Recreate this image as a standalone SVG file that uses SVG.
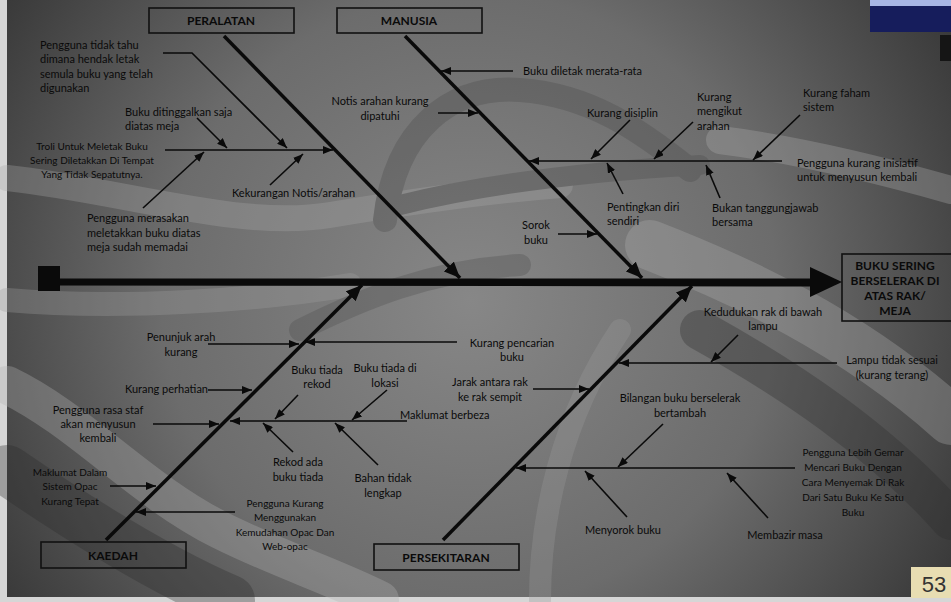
<svg xmlns="http://www.w3.org/2000/svg" width="951" height="602" viewBox="0 0 951 602">
<defs>
<radialGradient id="bg" cx="470" cy="300" r="560" gradientUnits="userSpaceOnUse">
<stop offset="0" stop-color="#878787"/>
<stop offset="0.55" stop-color="#6c6c6c"/>
<stop offset="1" stop-color="#383838"/>
</radialGradient>
<marker id="a" viewBox="0 0 10 8" refX="10" refY="4" markerWidth="10" markerHeight="8" markerUnits="userSpaceOnUse" orient="auto">
<path d="M0,0 L10,4 L0,8 z" fill="#0a0a0a"/>
</marker>
<marker id="b" viewBox="0 0 16 14" refX="16" refY="7" markerWidth="16" markerHeight="14" markerUnits="userSpaceOnUse" orient="auto">
<path d="M0,0 L16,7 L0,14 z" fill="#0a0a0a"/>
</marker>
</defs>
<style>
.t{font-family:Lato,"Liberation Sans",sans-serif;font-size:11px;fill:#0a0a0a}
.s{font-family:Lato,"Liberation Sans",sans-serif;font-size:10px;fill:#0a0a0a}
.c{text-anchor:middle}
.h{font-family:Lato,"Liberation Sans",sans-serif;font-size:12px;font-weight:bold;fill:#0a0a0a;text-anchor:middle}
.box{fill:none;stroke:#111;stroke-width:1.6}
.ln{fill:none;stroke:#0a0a0a;stroke-width:1.6}
.bone{fill:none;stroke:#0a0a0a;stroke-width:3.5}
.rib{fill:none;stroke-linecap:round}
</style>
<!-- frame and background -->
<rect x="0" y="0" width="951" height="602" fill="#d6d6d6"/>
<rect x="7" y="0" width="944" height="597" fill="url(#bg)"/>
<g id="background" opacity="0.32">
<path class="rib" d="M7,178 C120,190 240,230 330,215 C420,200 500,190 560,185" stroke="#a8a8a8" stroke-width="26"/>
<path class="rib" d="M385,220 C395,130 450,85 520,90 C590,95 640,130 690,170" stroke="#4a4a4a" stroke-width="24"/>
<path class="rib" d="M400,205 C480,185 580,172 700,165" stroke="#4a4a4a" stroke-width="20"/>
<path class="rib" d="M7,300 C120,310 260,300 350,285" stroke="#a0a0a0" stroke-width="24"/>
<path class="rib" d="M7,385 C80,420 140,490 220,530 C280,560 330,575 380,600" stroke="#b4b4b4" stroke-width="38"/>
<path class="rib" d="M7,470 C80,520 160,570 230,600" stroke="#2a2a2a" stroke-width="50"/>
<path class="rib" d="M720,140 C800,150 880,170 951,190" stroke="#b0b0b0" stroke-width="28"/>
<path class="rib" d="M650,245 C740,280 850,330 951,420" stroke="#b0b0b0" stroke-width="50"/>
<path class="rib" d="M700,330 C790,380 880,440 951,520" stroke="#2c2c2c" stroke-width="40"/>
<path class="rib" d="M540,600 C540,520 560,420 620,330" stroke="#9a9a9a" stroke-width="22"/>
<path class="rib" d="M300,330 C360,300 430,270 520,265" stroke="#4e4e4e" stroke-width="22"/>
</g>
<!-- corner decorations -->
<rect x="870" y="0" width="81" height="6" fill="#a8b6e4"/>
<rect x="870" y="6" width="81" height="26" fill="#161d5c"/>
<rect x="940" y="35" width="11" height="26" fill="#151515"/>
<rect x="911" y="567" width="40" height="31" fill="#e8ddb2"/>
<text x="934" y="592" font-family="Liberation Sans,sans-serif" font-size="22" fill="#333" text-anchor="middle">53</text>

<!-- category nodes -->
<g id="peralatan"><rect class="box" x="149" y="8" width="145" height="25"/><text class="h" x="221" y="25">PERALATAN</text></g>
<g id="manusia"><rect class="box" x="337" y="8" width="145" height="25"/><text class="h" x="409" y="25">MANUSIA</text></g>
<g id="kaedah"><rect class="box" x="41" y="542" width="145" height="26"/><text class="h" x="113" y="560">KAEDAH</text></g>
<g id="persekitaran"><rect class="box" x="374" y="544" width="145" height="26"/><text class="h" x="446" y="562">PERSEKITARAN</text></g>
<g id="effect"><rect class="box" x="842" y="254" width="112" height="67"/>
<text class="h" x="895" y="270">BUKU SERING</text><text class="h" x="895" y="285">BERSELERAK DI</text><text class="h" x="895" y="300">ATAS RAK/</text><text class="h" x="895" y="315">MEJA</text></g>

<!-- connectors -->
<g id="connectors">
<rect x="38" y="266" width="22" height="25" fill="#0a0a0a"/>
<path d="M58,278.5 L813,278.5 L813,286.5 L58,285.5 z" fill="#0a0a0a"/>
<path d="M810,267 L842,282 L810,297 z" fill="#0a0a0a"/>
<path class="bone" d="M224,36 L460,278" marker-end="url(#b)"/>
<path class="bone" d="M405,36 L642,278" marker-end="url(#b)"/>
<path class="bone" d="M106,540 L362,285" marker-end="url(#b)"/>
<path class="bone" d="M443,540 L692,286" marker-end="url(#b)"/>
<!-- peralatan -->
<path class="ln" d="M163,53 L192,53 L287,148" marker-end="url(#a)"/>
<path class="ln" d="M197,118 L227,148" marker-end="url(#a)"/>
<path class="ln" d="M165,150 L333,150" marker-end="url(#a)"/>
<path class="ln" d="M143,208 L204,152" marker-end="url(#a)"/>
<path class="ln" d="M270,185 L303,154" marker-end="url(#a)"/>
<!-- manusia -->
<path class="ln" d="M513,71 L441,71" marker-end="url(#a)"/>
<path class="ln" d="M438,113 L478,113" marker-end="url(#a)"/>
<path class="ln" d="M782,161 L529,161" marker-end="url(#a)"/>
<path class="ln" d="M630,120 L591,159" marker-end="url(#a)"/>
<path class="ln" d="M693,122 L654,159" marker-end="url(#a)"/>
<path class="ln" d="M800,115 L753,160" marker-end="url(#a)"/>
<path class="ln" d="M623,194 L607,163" marker-end="url(#a)"/>
<path class="ln" d="M720,198 L706,165" marker-end="url(#a)"/>
<path class="ln" d="M558,234 L597,234" marker-end="url(#a)"/>
<!-- kaedah -->
<path class="ln" d="M208,344 L299,344" marker-end="url(#a)"/>
<path class="ln" d="M457,342 L305,342" marker-end="url(#a)"/>
<path class="ln" d="M208,390 L252,390" marker-end="url(#a)"/>
<path class="ln" d="M153,424 L219,424" marker-end="url(#a)"/>
<path class="ln" d="M407,421 L230,421" marker-end="url(#a)"/>
<path class="ln" d="M298,395 L275,419" marker-end="url(#a)"/>
<path class="ln" d="M387,390 L352,420" marker-end="url(#a)"/>
<path class="ln" d="M293,452 L263,423" marker-end="url(#a)"/>
<path class="ln" d="M378,465 L335,423" marker-end="url(#a)"/>
<path class="ln" d="M110,486 L156,486" marker-end="url(#a)"/>
<path class="ln" d="M235,512 L136,512" marker-end="url(#a)"/>
<!-- persekitaran -->
<path class="ln" d="M738,335 L711,362" marker-end="url(#a)"/>
<path class="ln" d="M837,363 L619,363" marker-end="url(#a)"/>
<path class="ln" d="M533,389 L589,389" marker-end="url(#a)"/>
<path class="ln" d="M663,424 L618,467" marker-end="url(#a)"/>
<path class="ln" d="M795,468 L516,468" marker-end="url(#a)"/>
<path class="ln" d="M627,517 L585,471" marker-end="url(#a)"/>
<path class="ln" d="M768,518 L727,473" marker-end="url(#a)"/>
</g>

<!-- cause labels: peralatan -->
<g id="p-causes">
<text class="t" x="40" y="49">Pengguna tidak tahu</text>
<text class="t" x="40" y="63">dimana hendak letak</text>
<text class="t" x="40" y="78">semula buku yang telah</text>
<text class="t" x="40" y="92">digunakan</text>
<text class="t" x="125" y="116">Buku ditinggalkan saja</text>
<text class="t" x="125" y="130">diatas meja</text>
<text class="s c" x="92" y="150">Troli Untuk Meletak Buku</text>
<text class="s c" x="92" y="164">Sering Diletakkan Di Tempat</text>
<text class="s c" x="92" y="178">Yang Tidak Sepatutnya.</text>
<text class="t" x="87" y="222">Pengguna merasakan</text>
<text class="t" x="87" y="237">meletakkan buku diatas</text>
<text class="t" x="87" y="251">meja sudah memadai</text>
<text class="t" x="232" y="197">Kekurangan Notis/arahan</text>
</g>
<!-- manusia -->
<g id="m-causes">
<text class="t" x="523" y="75">Buku diletak merata-rata</text>
<text class="t c" x="380" y="105">Notis arahan kurang</text>
<text class="t c" x="380" y="120">dipatuhi</text>
<text class="t" x="587" y="117">Kurang disiplin</text>
<text class="t" x="697" y="101">Kurang</text>
<text class="t" x="697" y="115">mengikut</text>
<text class="t" x="697" y="130">arahan</text>
<text class="t" x="803" y="97">Kurang faham</text>
<text class="t" x="803" y="111">sistem</text>
<text class="t" x="797" y="167">Pengguna kurang inisiatif</text>
<text class="t" x="797" y="181">untuk menyusun kembali</text>
<text class="t" x="607" y="211">Pentingkan diri</text>
<text class="t" x="607" y="225">sendiri</text>
<text class="t" x="712" y="212">Bukan tanggungjawab</text>
<text class="t" x="712" y="226">bersama</text>
<text class="t c" x="536" y="229">Sorok</text>
<text class="t c" x="536" y="244">buku</text>
</g>
<!-- kaedah -->
<g id="k-causes">
<text class="t c" x="181" y="341">Penunjuk arah</text>
<text class="t c" x="181" y="356">kurang</text>
<text class="t c" x="512" y="347">Kurang pencarian</text>
<text class="t c" x="512" y="361">buku</text>
<text class="t" x="208" y="393" text-anchor="end">Kurang perhatian</text>
<text class="t c" x="98" y="414">Pengguna rasa staf</text>
<text class="t c" x="98" y="428">akan menyusun</text>
<text class="t c" x="98" y="442">kembali</text>
<text class="t c" x="317" y="374">Buku tiada</text>
<text class="t c" x="317" y="388">rekod</text>
<text class="t c" x="385" y="372">Buku tiada di</text>
<text class="t c" x="385" y="387">lokasi</text>
<text class="t" x="400" y="419">Maklumat berbeza</text>
<text class="t c" x="298" y="466">Rekod ada</text>
<text class="t c" x="298" y="481">buku tiada</text>
<text class="t c" x="383" y="482">Bahan tidak</text>
<text class="t c" x="383" y="497">lengkap</text>
<text class="s c" x="70" y="476">Maklumat Dalam</text>
<text class="s c" x="70" y="490">Sistem Opac</text>
<text class="s c" x="70" y="505">Kurang Tepat</text>
<text class="s c" x="285" y="507">Pengguna Kurang</text>
<text class="s c" x="285" y="521">Menggunakan</text>
<text class="s c" x="285" y="536">Kemudahan Opac Dan</text>
<text class="s c" x="285" y="550">Web-opac</text>
</g>
<!-- persekitaran -->
<g id="e-causes">
<text class="t c" x="763" y="316">Kedudukan rak di bawah</text>
<text class="t c" x="763" y="330">lampu</text>
<text class="t c" x="892" y="364">Lampu tidak sesuai</text>
<text class="t c" x="892" y="379">(kurang terang)</text>
<text class="t c" x="490" y="386">Jarak antara rak</text>
<text class="t c" x="490" y="401">ke rak sempit</text>
<text class="t c" x="680" y="402">Bilangan buku berselerak</text>
<text class="t c" x="680" y="417">bertambah</text>
<text class="s c" x="853" y="456">Pengguna Lebih Gemar</text>
<text class="s c" x="853" y="471">Mencari Buku Dengan</text>
<text class="s c" x="853" y="486">Cara Menyemak Di Rak</text>
<text class="s c" x="853" y="501">Dari Satu Buku Ke Satu</text>
<text class="s c" x="853" y="516">Buku</text>
<text class="t c" x="623" y="534">Menyorok buku</text>
<text class="t c" x="785" y="539">Membazir masa</text>
</g>
</svg>
